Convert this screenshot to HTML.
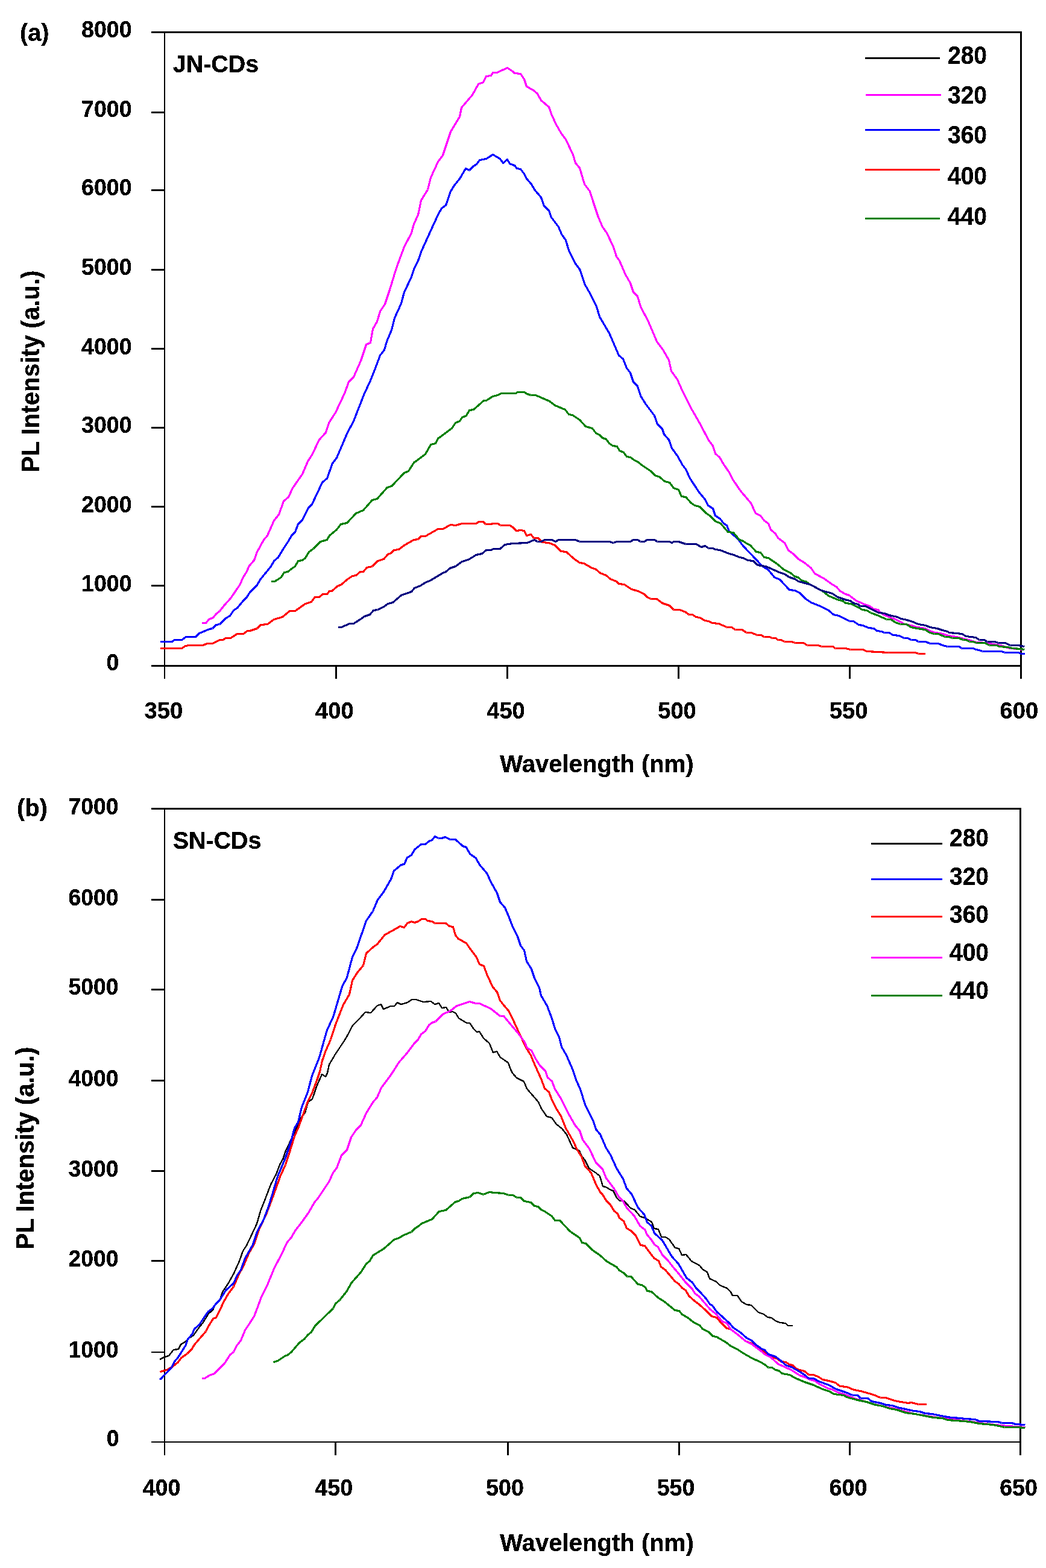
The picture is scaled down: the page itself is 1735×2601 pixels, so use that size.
<!DOCTYPE html>
<html lang="en">
<head>
<meta charset="utf-8">
<title>PL spectra of JN-CDs and SN-CDs</title>
<style>
html,body{margin:0;padding:0;background:#fff;}
body{width:1735px;height:2601px;overflow:hidden;}
svg{display:block;}
text{font-family:"Liberation Sans", sans-serif;font-weight:bold;fill:#000;}
</style>
</head>
<body>
<svg width="1735" height="2601" viewBox="0 0 1735 2601">
<defs>
<filter id="aa" x="-10%" y="-30%" width="120%" height="160%" color-interpolation-filters="sRGB"><feComponentTransfer><feFuncA type="discrete" tableValues="0 0 0 1 1 1 1 1 1 1"/></feComponentTransfer></filter>
</defs>
<rect x="0" y="0" width="1735" height="2601" fill="#ffffff"/>

<g id="plot-a">
<g shape-rendering="crispEdges">
<rect x="251" y="52" width="1444" height="3" fill="#000"/>
<rect x="251" y="1103" width="1444" height="3" fill="#000"/>
<rect x="272" y="52" width="2" height="1074" fill="#000"/>
<rect x="1692" y="52" width="3" height="1074" fill="#000"/>
<rect x="251" y="185" width="22" height="3" fill="#000"/>
<rect x="251" y="314" width="22" height="3" fill="#000"/>
<rect x="251" y="446" width="22" height="3" fill="#000"/>
<rect x="251" y="577" width="22" height="3" fill="#000"/>
<rect x="251" y="708" width="22" height="3" fill="#000"/>
<rect x="251" y="839" width="22" height="3" fill="#000"/>
<rect x="251" y="970" width="22" height="3" fill="#000"/>
<rect x="556" y="1104" width="3" height="22" fill="#000"/>
<rect x="840" y="1104" width="3" height="22" fill="#000"/>
<rect x="1124" y="1104" width="3" height="22" fill="#000"/>
<rect x="1408" y="1104" width="3" height="22" fill="#000"/>
</g>
<g>
<polyline points="334.5,1033.5 341.5,1033.5 346.5,1027.5 353.5,1024.5 358.5,1018.5 364.5,1013.5 372.5,1003.5 382.5,992.5 397.5,970.5 403.5,957.5 408.5,949.5 413.5,938.5 421.5,929.5 426.5,915.5 437.5,895.5 443.5,888.5 454.5,863.5 462.5,853.5 470.5,831.5 478.5,824.5 485.5,809.5 501.5,786.5 510.5,765.5 517.5,754.5 529.5,729.5 540.5,717.5 545.5,701.5 556.5,684.5 571.5,652.5 578.5,633.5 586.5,625.5 598.5,598.5 607.5,571.5 614.5,568.5 618.5,545.5 625.5,533.5 630.5,516.5 638.5,504.5 646.5,480.5 657.5,444.5 670.5,409.5 682.5,386.5 686.5,371.5 693.5,356.5 698.5,332.5 709.5,314.5 714.5,294.5 726.5,268.5 734.5,257.5 747.5,218.5 762.5,193.5 765.5,178.5 783.5,157.5 793.5,139.5 801.5,136.5 806.5,126.5 814.5,125.5 817.5,120.5 824.5,120.5 841.5,112.5 850.5,118.5 853.5,121.5 863.5,122.5 869.5,131.5 873.5,143.5 884.5,149.5 891.5,155.5 897.5,166.5 910.5,177.5 915.5,191.5 922.5,206.5 930.5,220.5 938.5,231.5 950.5,256.5 954.5,270.5 961.5,278.5 969.5,305.5 978.5,317.5 983.5,333.5 992.5,360.5 999.5,376.5 1006.5,386.5 1017.5,409.5 1022.5,425.5 1027.5,432.5 1037.5,455.5 1045.5,469.5 1050.5,484.5 1057.5,491.5 1062.5,508.5 1075.5,533.5 1089.5,566.5 1100.5,581.5 1109.5,597.5 1113.5,615.5 1123.5,629.5 1131.5,647.5 1146.5,677.5 1161.5,703.5 1175.5,730.5 1182.5,739.5 1186.5,752.5 1193.5,758.5 1200.5,770.5 1209.5,783.5 1215.5,795.5 1228.5,814.5 1245.5,834.5 1253.5,851.5 1261.5,855.5 1267.5,863.5 1274.5,868.5 1278.5,878.5 1286.5,885.5 1290.5,892.5 1301.5,900.5 1307.5,912.5 1316.5,919.5 1324.5,927.5 1334.5,933.5 1345.5,942.5 1351.5,951.5 1366.5,959.5 1380.5,969.5 1387.5,973.5 1393.5,980.5 1402.5,985.5 1408.5,987.5 1420.5,996.5 1431.5,1001.5 1442.5,1005.5 1449.5,1010.5 1456.5,1011.5 1460.5,1016.5 1467.5,1020.5 1477.5,1024.5 1485.5,1027.5 1493.5,1031.5 1500.5,1035.5 1511.5,1037.5 1521.5,1040.5 1534.5,1042.5 1544.5,1047.5 1551.5,1049.5 1564.5,1051.5 1572.5,1054.5 1586.5,1056.5 1602.5,1060.5 1610.5,1062.5 1618.5,1065.5 1637.5,1066.5 1646.5,1068.5 1659.5,1070.5 1671.5,1074.5 1676.5,1075.5 1687.5,1076.5 1699.5,1077.5" fill="none" stroke="#ff00ff" stroke-width="3.2" stroke-linejoin="round" stroke-linecap="butt" shape-rendering="crispEdges"/>
<polyline points="265.5,1064.5 285.5,1064.5 289.5,1061.5 301.5,1061.5 308.5,1056.5 324.5,1056.5 330.5,1050.5 347.5,1043.5 352.5,1042.5 358.5,1036.5 364.5,1035.5 374.5,1025.5 381.5,1021.5 387.5,1012.5 393.5,1008.5 403.5,996.5 409.5,990.5 414.5,982.5 426.5,970.5 431.5,961.5 449.5,939.5 454.5,930.5 461.5,924.5 470.5,909.5 478.5,897.5 483.5,888.5 489.5,882.5 494.5,869.5 501.5,862.5 511.5,842.5 517.5,836.5 534.5,800.5 542.5,793.5 551.5,768.5 558.5,759.5 575.5,719.5 586.5,698.5 604.5,652.5 613.5,633.5 621.5,613.5 630.5,589.5 637.5,580.5 641.5,566.5 649.5,547.5 654.5,527.5 665.5,503.5 670.5,484.5 682.5,459.5 686.5,446.5 693.5,432.5 699.5,415.5 714.5,382.5 726.5,356.5 732.5,345.5 739.5,340.5 747.5,317.5 753.5,307.5 762.5,296.5 772.5,279.5 778.5,282.5 785.5,275.5 790.5,272.5 795.5,265.5 806.5,263.5 817.5,256.5 824.5,260.5 829.5,263.5 834.5,270.5 841.5,264.5 845.5,271.5 850.5,273.5 853.5,274.5 857.5,279.5 863.5,280.5 869.5,288.5 873.5,296.5 881.5,305.5 886.5,314.5 897.5,327.5 902.5,341.5 910.5,349.5 914.5,360.5 926.5,376.5 931.5,388.5 938.5,398.5 943.5,415.5 954.5,437.5 961.5,446.5 970.5,472.5 978.5,486.5 989.5,508.5 994.5,525.5 1010.5,552.5 1026.5,589.5 1033.5,595.5 1039.5,610.5 1045.5,618.5 1050.5,633.5 1057.5,640.5 1062.5,656.5 1070.5,669.5 1085.5,689.5 1090.5,703.5 1098.5,711.5 1101.5,720.5 1109.5,729.5 1114.5,743.5 1124.5,757.5 1131.5,770.5 1137.5,778.5 1144.5,793.5 1159.5,816.5 1169.5,828.5 1174.5,838.5 1182.5,843.5 1186.5,855.5 1194.5,860.5 1200.5,868.5 1205.5,871.5 1209.5,881.5 1223.5,893.5 1232.5,905.5 1255.5,929.5 1263.5,938.5 1274.5,945.5 1284.5,957.5 1293.5,961.5 1309.5,978.5 1318.5,979.5 1326.5,983.5 1336.5,993.5 1345.5,999.5 1360.5,1005.5 1374.5,1012.5 1382.5,1019.5 1391.5,1021.5 1401.5,1026.5 1409.5,1030.5 1415.5,1030.5 1424.5,1036.5 1431.5,1037.5 1440.5,1041.5 1449.5,1042.5 1454.5,1046.5 1462.5,1047.5 1466.5,1049.5 1474.5,1049.5 1481.5,1053.5 1491.5,1054.5 1499.5,1058.5 1505.5,1058.5 1511.5,1061.5 1518.5,1061.5 1523.5,1064.5 1535.5,1064.5 1542.5,1067.5 1556.5,1067.5 1563.5,1070.5 1571.5,1072.5 1590.5,1072.5 1595.5,1075.5 1614.5,1075.5 1618.5,1077.5 1624.5,1078.5 1629.5,1080.5 1661.5,1080.5 1666.5,1082.5 1689.5,1082.5 1693.5,1084.5 1699.5,1084.5" fill="none" stroke="#0000ff" stroke-width="3.2" stroke-linejoin="round" stroke-linecap="butt" shape-rendering="crispEdges"/>
<polyline points="265.5,1075.5 301.5,1075.5 307.5,1071.5 313.5,1070.5 336.5,1070.5 343.5,1067.5 352.5,1067.5 364.5,1061.5 369.5,1061.5 374.5,1058.5 382.5,1058.5 393.5,1051.5 403.5,1051.5 410.5,1046.5 414.5,1046.5 426.5,1042.5 432.5,1036.5 443.5,1035.5 454.5,1027.5 468.5,1023.5 480.5,1013.5 489.5,1013.5 506.5,1001.5 516.5,998.5 522.5,990.5 529.5,990.5 535.5,985.5 542.5,985.5 546.5,980.5 550.5,980.5 559.5,972.5 566.5,969.5 575.5,961.5 584.5,955.5 590.5,954.5 597.5,948.5 602.5,948.5 608.5,941.5 617.5,939.5 626.5,930.5 636.5,927.5 643.5,919.5 648.5,917.5 653.5,912.5 661.5,911.5 670.5,904.5 686.5,895.5 693.5,894.5 698.5,889.5 705.5,889.5 726.5,877.5 734.5,877.5 747.5,870.5 755.5,871.5 766.5,868.5 789.5,868.5 794.5,865.5 801.5,865.5 805.5,869.5 814.5,869.5 817.5,868.5 825.5,868.5 830.5,871.5 845.5,871.5 850.5,874.5 856.5,880.5 863.5,879.5 869.5,880.5 873.5,888.5 880.5,886.5 885.5,892.5 892.5,892.5 899.5,899.5 910.5,900.5 920.5,904.5 930.5,914.5 939.5,915.5 951.5,926.5 961.5,933.5 968.5,934.5 980.5,941.5 988.5,944.5 995.5,950.5 1005.5,954.5 1012.5,960.5 1022.5,964.5 1026.5,968.5 1035.5,969.5 1047.5,977.5 1058.5,980.5 1068.5,985.5 1073.5,990.5 1079.5,993.5 1089.5,993.5 1098.5,1000.5 1110.5,1004.5 1117.5,1011.5 1127.5,1011.5 1137.5,1015.5 1142.5,1019.5 1148.5,1019.5 1154.5,1023.5 1160.5,1024.5 1169.5,1029.5 1175.5,1030.5 1181.5,1033.5 1192.5,1034.5 1205.5,1040.5 1213.5,1040.5 1219.5,1044.5 1230.5,1044.5 1238.5,1049.5 1246.5,1049.5 1255.5,1053.5 1262.5,1053.5 1267.5,1056.5 1276.5,1056.5 1280.5,1058.5 1286.5,1058.5 1290.5,1061.5 1295.5,1061.5 1301.5,1064.5 1313.5,1064.5 1318.5,1066.5 1332.5,1066.5 1339.5,1070.5 1357.5,1070.5 1362.5,1072.5 1381.5,1072.5 1385.5,1075.5 1402.5,1075.5 1410.5,1077.5 1431.5,1077.5 1437.5,1080.5 1474.5,1082.5 1518.5,1082.5 1523.5,1084.5 1534.5,1084.5" fill="none" stroke="#ff0000" stroke-width="3.2" stroke-linejoin="round" stroke-linecap="butt" shape-rendering="crispEdges"/>
<polyline points="449.5,964.5 455.5,964.5 460.5,961.5 466.5,957.5 471.5,949.5 477.5,948.5 483.5,943.5 489.5,939.5 494.5,930.5 501.5,929.5 506.5,925.5 512.5,915.5 519.5,910.5 531.5,898.5 542.5,895.5 546.5,888.5 558.5,878.5 565.5,869.5 575.5,867.5 590.5,851.5 602.5,846.5 617.5,829.5 625.5,827.5 642.5,808.5 649.5,806.5 670.5,784.5 677.5,781.5 686.5,767.5 705.5,753.5 714.5,737.5 722.5,735.5 726.5,727.5 749.5,710.5 755.5,701.5 762.5,698.5 766.5,692.5 773.5,689.5 778.5,680.5 785.5,679.5 802.5,664.5 806.5,664.5 817.5,657.5 825.5,655.5 831.5,652.5 850.5,652.5 855.5,652.5 858.5,650.5 869.5,650.5 874.5,653.5 880.5,655.5 888.5,655.5 897.5,659.5 911.5,665.5 920.5,672.5 937.5,679.5 943.5,687.5 949.5,688.5 961.5,696.5 971.5,707.5 982.5,710.5 988.5,718.5 994.5,721.5 999.5,726.5 1005.5,728.5 1010.5,735.5 1016.5,739.5 1023.5,740.5 1027.5,747.5 1034.5,750.5 1039.5,757.5 1045.5,758.5 1052.5,763.5 1058.5,766.5 1064.5,771.5 1079.5,781.5 1086.5,788.5 1094.5,791.5 1102.5,798.5 1110.5,800.5 1117.5,809.5 1125.5,812.5 1130.5,823.5 1137.5,824.5 1146.5,834.5 1152.5,838.5 1160.5,840.5 1171.5,851.5 1177.5,855.5 1186.5,864.5 1195.5,868.5 1207.5,882.5 1216.5,883.5 1226.5,895.5 1232.5,897.5 1238.5,901.5 1244.5,904.5 1254.5,915.5 1261.5,916.5 1267.5,924.5 1274.5,925.5 1290.5,936.5 1299.5,944.5 1311.5,950.5 1318.5,956.5 1323.5,957.5 1330.5,963.5 1336.5,964.5 1343.5,969.5 1364.5,980.5 1374.5,988.5 1391.5,995.5 1397.5,996.5 1402.5,1000.5 1411.5,1001.5 1423.5,1007.5 1430.5,1011.5 1437.5,1012.5 1444.5,1016.5 1457.5,1021.5 1470.5,1027.5 1477.5,1027.5 1485.5,1032.5 1493.5,1035.5 1503.5,1035.5 1511.5,1040.5 1521.5,1042.5 1534.5,1044.5 1542.5,1049.5 1549.5,1051.5 1556.5,1051.5 1567.5,1056.5 1574.5,1056.5 1579.5,1058.5 1590.5,1058.5 1597.5,1061.5 1602.5,1061.5 1608.5,1064.5 1614.5,1064.5 1619.5,1066.5 1633.5,1066.5 1641.5,1070.5 1653.5,1070.5 1657.5,1072.5 1671.5,1073.5 1679.5,1075.5 1692.5,1076.5 1699.5,1077.5" fill="none" stroke="#008000" stroke-width="3.2" stroke-linejoin="round" stroke-linecap="butt" shape-rendering="crispEdges"/>
<polyline points="560.5,1040.5 566.5,1040.5 579.5,1034.5 586.5,1034.5 597.5,1027.5 604.5,1022.5 613.5,1019.5 619.5,1012.5 626.5,1011.5 636.5,1006.5 643.5,1001.5 651.5,999.5 665.5,987.5 682.5,981.5 687.5,975.5 697.5,971.5 705.5,966.5 714.5,962.5 734.5,950.5 739.5,948.5 746.5,942.5 755.5,939.5 766.5,931.5 776.5,928.5 783.5,924.5 789.5,920.5 799.5,918.5 806.5,912.5 814.5,912.5 818.5,910.5 829.5,910.5 837.5,903.5 850.5,901.5 874.5,900.5 886.5,895.5 891.5,898.5 897.5,898.5 903.5,895.5 915.5,895.5 921.5,898.5 926.5,895.5 954.5,895.5 961.5,898.5 1010.5,898.5 1017.5,900.5 1022.5,898.5 1045.5,898.5 1050.5,895.5 1057.5,895.5 1062.5,898.5 1068.5,898.5 1073.5,895.5 1085.5,895.5 1090.5,898.5 1110.5,898.5 1114.5,900.5 1117.5,898.5 1125.5,898.5 1137.5,902.5 1154.5,902.5 1163.5,907.5 1169.5,905.5 1175.5,909.5 1182.5,909.5 1186.5,911.5 1194.5,912.5 1209.5,918.5 1217.5,920.5 1226.5,924.5 1232.5,925.5 1240.5,929.5 1249.5,930.5 1255.5,936.5 1261.5,938.5 1270.5,939.5 1290.5,948.5 1301.5,952.5 1309.5,957.5 1318.5,960.5 1324.5,964.5 1343.5,969.5 1362.5,979.5 1380.5,984.5 1389.5,990.5 1404.5,995.5 1410.5,996.5 1415.5,1000.5 1423.5,1002.5 1426.5,1005.5 1435.5,1005.5 1449.5,1012.5 1457.5,1016.5 1467.5,1017.5 1474.5,1020.5 1488.5,1023.5 1494.5,1026.5 1500.5,1027.5 1511.5,1030.5 1523.5,1035.5 1535.5,1037.5 1542.5,1040.5 1554.5,1042.5 1563.5,1045.5 1571.5,1047.5 1574.5,1049.5 1586.5,1050.5 1595.5,1051.5 1602.5,1055.5 1618.5,1057.5 1624.5,1061.5 1632.5,1061.5 1637.5,1064.5 1650.5,1064.5 1655.5,1066.5 1667.5,1066.5 1675.5,1070.5 1688.5,1070.5 1699.5,1072.5" fill="none" stroke="#000080" stroke-width="3.2" stroke-linejoin="round" stroke-linecap="butt" shape-rendering="crispEdges"/>
</g>
<g shape-rendering="crispEdges">
<rect x="1434.5" y="95" width="124.5" height="3" fill="#000000"/>
<rect x="1436.3" y="156" width="124.5" height="3" fill="#ff00ff"/>
<rect x="1434.5" y="214" width="124.5" height="3" fill="#0000ff"/>
<rect x="1434.5" y="280" width="124.5" height="3" fill="#ff0000"/>
<rect x="1434.5" y="361" width="124.5" height="3" fill="#008000"/>
</g>
<text transform="translate(1572,106.3) scale(1,1.073)" font-size="39" filter="url(#aa)">280</text>
<text transform="translate(1572,172.3) scale(1,1.073)" font-size="39" filter="url(#aa)">320</text>
<text transform="translate(1572,238.3) scale(1,1.073)" font-size="39" filter="url(#aa)">360</text>
<text transform="translate(1572,306.2) scale(1,1.073)" font-size="39" filter="url(#aa)">400</text>
<text transform="translate(1572,373.1) scale(1,1.073)" font-size="39" filter="url(#aa)">440</text>
<text transform="translate(135,62) scale(1,1.03)" font-size="37.6" filter="url(#aa)">8000</text>
<text transform="translate(135,194.3) scale(1,1.03)" font-size="37.6" filter="url(#aa)">7000</text>
<text transform="translate(135,323.5) scale(1,1.03)" font-size="37.6" filter="url(#aa)">6000</text>
<text transform="translate(135,455.8) scale(1,1.03)" font-size="37.6" filter="url(#aa)">5000</text>
<text transform="translate(135,587.8) scale(1,1.03)" font-size="37.6" filter="url(#aa)">4000</text>
<text transform="translate(135,718.2) scale(1,1.03)" font-size="37.6" filter="url(#aa)">3000</text>
<text transform="translate(135,850.3) scale(1,1.03)" font-size="37.6" filter="url(#aa)">2000</text>
<text transform="translate(135,981) scale(1,1.03)" font-size="37.6" filter="url(#aa)">1000</text>
<text transform="translate(176.5,1111.8) scale(1,1.03)" font-size="37.6" filter="url(#aa)">0</text>
<text transform="translate(271.3,1192.2) scale(1,1.035)" font-size="38.2" text-anchor="middle" filter="url(#aa)">350</text>
<text transform="translate(554.9,1192.2) scale(1,1.035)" font-size="38.2" text-anchor="middle" filter="url(#aa)">400</text>
<text transform="translate(839,1192.2) scale(1,1.035)" font-size="38.2" text-anchor="middle" filter="url(#aa)">450</text>
<text transform="translate(1123,1192.2) scale(1,1.035)" font-size="38.2" text-anchor="middle" filter="url(#aa)">500</text>
<text transform="translate(1407.7,1192.2) scale(1,1.035)" font-size="38.2" text-anchor="middle" filter="url(#aa)">550</text>
<text transform="translate(1690.4,1192.2) scale(1,1.035)" font-size="38.2" text-anchor="middle" filter="url(#aa)">600</text>
<text transform="translate(33,67.9) scale(1,1.03)" font-size="39.6" filter="url(#aa)">(a)</text>
<text transform="translate(286.8,120) scale(1,1.048)" font-size="39.4" filter="url(#aa)">JN-CDs</text>
<text transform="translate(990,1281) scale(1,1.03)" font-size="40.1" text-anchor="middle" filter="url(#aa)">Wavelength (nm)</text>
<text transform="translate(65,616) rotate(-90) scale(1,1.04)" font-size="40.3" text-anchor="middle" filter="url(#aa)">PL Intensity (a.u.)</text>
</g>
<g id="plot-b">
<g shape-rendering="crispEdges">
<rect x="251" y="1340" width="1443" height="3" fill="#000"/>
<rect x="251" y="2391" width="1443" height="2" fill="#000"/>
<rect x="272" y="1340" width="2" height="1074" fill="#000"/>
<rect x="1691" y="1340" width="3" height="1074" fill="#000"/>
<rect x="251" y="1491" width="22" height="3" fill="#000"/>
<rect x="251" y="1640" width="22" height="3" fill="#000"/>
<rect x="251" y="1791" width="22" height="3" fill="#000"/>
<rect x="251" y="1941" width="22" height="3" fill="#000"/>
<rect x="251" y="2090" width="22" height="3" fill="#000"/>
<rect x="251" y="2242" width="22" height="2" fill="#000"/>
<rect x="555" y="2392" width="3" height="22" fill="#000"/>
<rect x="841" y="2392" width="3" height="22" fill="#000"/>
<rect x="1125" y="2392" width="3" height="22" fill="#000"/>
<rect x="1408" y="2392" width="3" height="22" fill="#000"/>
</g>
<g>
<polyline points="265.0,2255.0 273.0,2251.0 280.0,2249.0 288.0,2239.0 296.0,2238.0 300.0,2230.0 307.0,2226.0 313.0,2220.0 321.0,2215.0 328.0,2205.0 336.0,2195.0 346.0,2179.0 353.0,2173.0 357.0,2164.0 365.0,2156.0 369.0,2143.0 378.0,2130.0 388.0,2112.0 397.0,2092.0 403.0,2075.0 409.0,2066.0 418.0,2047.0 426.0,2030.0 432.0,2009.0 441.0,1986.0 449.0,1965.0 458.0,1948.0 464.0,1932.0 470.0,1921.0 473.0,1911.0 482.0,1892.0 489.0,1877.0 498.0,1856.0 506.0,1846.0 511.0,1828.0 518.0,1823.0 526.0,1800.0 534.0,1782.0 540.0,1786.0 543.0,1780.0 546.0,1766.0 556.0,1749.0 570.0,1728.0 575.0,1720.0 585.0,1701.0 596.0,1690.0 606.0,1679.0 615.0,1680.0 626.0,1668.0 632.0,1666.0 636.0,1674.0 648.0,1669.0 654.0,1669.0 659.0,1663.0 665.0,1666.0 676.0,1663.0 683.0,1658.0 690.0,1658.0 702.0,1662.0 715.0,1661.0 721.0,1666.0 728.0,1664.0 733.0,1672.0 740.0,1671.0 745.0,1679.0 751.0,1678.0 756.0,1681.0 761.0,1689.0 774.0,1697.0 779.0,1697.0 786.0,1707.0 791.0,1712.0 795.0,1711.0 802.0,1722.0 812.0,1731.0 818.0,1746.0 824.0,1744.0 830.0,1754.0 836.0,1758.0 843.0,1763.0 847.0,1774.0 850.0,1780.0 857.0,1788.0 869.0,1794.0 874.0,1806.0 893.0,1828.0 898.0,1839.0 907.0,1852.0 915.0,1854.0 923.0,1865.0 932.0,1872.0 940.0,1882.0 950.0,1904.0 961.0,1909.0 965.0,1918.0 970.0,1924.0 977.0,1938.0 989.0,1946.0 995.0,1951.0 1000.0,1968.0 1005.0,1969.0 1013.0,1974.0 1017.0,1975.0 1023.0,1987.0 1028.0,1992.0 1035.0,1992.0 1046.0,2004.0 1053.0,2007.0 1062.0,2018.0 1069.0,2020.0 1081.0,2027.0 1085.0,2038.0 1092.0,2039.0 1097.0,2052.0 1104.0,2052.0 1110.0,2056.0 1120.0,2070.0 1126.0,2071.0 1131.0,2082.0 1138.0,2081.0 1147.0,2092.0 1160.0,2099.0 1166.0,2106.0 1173.0,2110.0 1177.0,2121.0 1188.0,2126.0 1194.0,2132.0 1206.0,2137.0 1212.0,2143.0 1215.0,2149.0 1223.0,2149.0 1230.0,2159.0 1238.0,2164.0 1246.0,2165.0 1258.0,2177.0 1267.0,2180.0 1273.0,2185.0 1280.0,2186.0 1286.0,2191.0 1294.0,2194.0 1303.0,2195.0 1307.0,2199.0 1315.0,2199.0" fill="none" stroke="#000000" stroke-width="2.4" stroke-linejoin="round" stroke-linecap="butt" shape-rendering="crispEdges"/>
<polyline points="265.5,2275.5 276.5,2272.5 285.5,2267.5 295.5,2259.5 300.5,2252.5 310.5,2245.5 318.5,2237.5 322.5,2230.5 341.5,2208.5 345.5,2200.5 353.5,2187.5 358.5,2185.5 364.5,2173.5 371.5,2158.5 378.5,2146.5 387.5,2134.5 395.5,2115.5 403.5,2100.5 412.5,2079.5 421.5,2063.5 429.5,2039.5 441.5,2014.5 449.5,1993.5 456.5,1974.5 465.5,1949.5 473.5,1932.5 481.5,1907.5 488.5,1884.5 494.5,1871.5 502.5,1849.5 510.5,1827.5 517.5,1813.5 525.5,1792.5 530.5,1777.5 534.5,1759.5 540.5,1742.5 548.5,1724.5 556.5,1699.5 569.5,1666.5 579.5,1649.5 584.5,1626.5 592.5,1613.5 602.5,1601.5 607.5,1581.5 619.5,1570.5 625.5,1566.5 638.5,1550.5 651.5,1543.5 663.5,1536.5 670.5,1538.5 675.5,1531.5 682.5,1528.5 687.5,1530.5 693.5,1528.5 699.5,1524.5 705.5,1524.5 709.5,1527.5 716.5,1528.5 721.5,1531.5 739.5,1531.5 745.5,1536.5 751.5,1537.5 755.5,1551.5 760.5,1557.5 773.5,1564.5 779.5,1573.5 789.5,1586.5 795.5,1599.5 802.5,1602.5 808.5,1618.5 817.5,1637.5 824.5,1645.5 829.5,1659.5 835.5,1667.5 843.5,1676.5 850.5,1690.5 861.5,1714.5 873.5,1739.5 880.5,1750.5 884.5,1760.5 888.5,1769.5 897.5,1789.5 903.5,1805.5 910.5,1811.5 915.5,1824.5 922.5,1838.5 930.5,1851.5 938.5,1871.5 950.5,1892.5 957.5,1907.5 964.5,1918.5 970.5,1934.5 980.5,1945.5 988.5,1964.5 995.5,1977.5 999.5,1981.5 1005.5,1991.5 1012.5,1998.5 1018.5,2008.5 1024.5,2013.5 1027.5,2020.5 1034.5,2025.5 1039.5,2037.5 1046.5,2041.5 1054.5,2049.5 1062.5,2065.5 1069.5,2066.5 1080.5,2081.5 1085.5,2087.5 1092.5,2091.5 1096.5,2101.5 1103.5,2106.5 1114.5,2119.5 1119.5,2125.5 1125.5,2129.5 1131.5,2136.5 1137.5,2140.5 1142.5,2149.5 1152.5,2158.5 1159.5,2163.5 1171.5,2174.5 1180.5,2183.5 1188.5,2185.5 1194.5,2192.5 1205.5,2203.5 1211.5,2204.5 1224.5,2214.5 1236.5,2224.5 1246.5,2228.5 1257.5,2237.5 1267.5,2242.5 1276.5,2249.5 1288.5,2253.5 1295.5,2258.5 1303.5,2259.5 1309.5,2263.5 1314.5,2264.5 1322.5,2271.5 1334.5,2274.5 1341.5,2280.5 1349.5,2280.5 1358.5,2284.5 1364.5,2288.5 1374.5,2290.5 1385.5,2293.5 1393.5,2299.5 1404.5,2300.5 1416.5,2305.5 1427.5,2307.5 1441.5,2311.5 1448.5,2313.5 1460.5,2318.5 1469.5,2318.5 1483.5,2323.5 1494.5,2325.5 1506.5,2327.5 1511.5,2326.5 1523.5,2329.5 1536.5,2329.5" fill="none" stroke="#ff0000" stroke-width="3.2" stroke-linejoin="round" stroke-linecap="butt" shape-rendering="crispEdges"/>
<polyline points="334.5,2286.5 339.5,2286.5 347.5,2281.5 355.5,2278.5 364.5,2269.5 372.5,2261.5 381.5,2247.5 387.5,2242.5 392.5,2232.5 399.5,2223.5 406.5,2206.5 414.5,2194.5 421.5,2183.5 426.5,2170.5 433.5,2151.5 443.5,2131.5 454.5,2104.5 466.5,2081.5 476.5,2060.5 483.5,2052.5 489.5,2041.5 500.5,2027.5 512.5,2010.5 521.5,1994.5 527.5,1987.5 535.5,1975.5 545.5,1960.5 552.5,1945.5 558.5,1937.5 566.5,1916.5 575.5,1907.5 582.5,1886.5 590.5,1874.5 598.5,1866.5 607.5,1846.5 618.5,1828.5 625.5,1820.5 632.5,1804.5 649.5,1781.5 661.5,1762.5 675.5,1746.5 686.5,1731.5 693.5,1724.5 698.5,1715.5 705.5,1710.5 711.5,1700.5 716.5,1696.5 722.5,1694.5 734.5,1682.5 747.5,1676.5 757.5,1668.5 764.5,1666.5 778.5,1661.5 789.5,1664.5 795.5,1664.5 814.5,1673.5 829.5,1685.5 835.5,1685.5 850.5,1703.5 857.5,1711.5 869.5,1727.5 874.5,1738.5 881.5,1742.5 888.5,1756.5 895.5,1767.5 904.5,1776.5 908.5,1787.5 915.5,1793.5 920.5,1806.5 930.5,1822.5 943.5,1848.5 954.5,1867.5 961.5,1875.5 966.5,1890.5 977.5,1905.5 988.5,1928.5 999.5,1939.5 1005.5,1954.5 1018.5,1971.5 1026.5,1985.5 1033.5,1992.5 1039.5,2003.5 1052.5,2017.5 1061.5,2033.5 1069.5,2039.5 1073.5,2048.5 1080.5,2056.5 1085.5,2064.5 1091.5,2068.5 1098.5,2081.5 1108.5,2091.5 1114.5,2099.5 1125.5,2112.5 1137.5,2127.5 1148.5,2138.5 1152.5,2145.5 1159.5,2150.5 1171.5,2164.5 1177.5,2171.5 1188.5,2180.5 1198.5,2192.5 1205.5,2194.5 1211.5,2204.5 1224.5,2214.5 1236.5,2224.5 1246.5,2229.5 1261.5,2240.5 1268.5,2246.5 1278.5,2251.5 1290.5,2262.5 1301.5,2267.5 1312.5,2272.5 1326.5,2281.5 1335.5,2284.5 1343.5,2288.5 1351.5,2290.5 1358.5,2295.5 1374.5,2303.5 1379.5,2304.5 1391.5,2310.5 1402.5,2313.5 1416.5,2319.5 1437.5,2325.5 1450.5,2329.5 1467.5,2333.5 1483.5,2336.5 1498.5,2340.5 1517.5,2345.5 1536.5,2348.5 1555.5,2351.5 1575.5,2353.5 1594.5,2356.5 1613.5,2358.5 1632.5,2361.5 1651.5,2363.5 1670.5,2365.5 1700.5,2367.5" fill="none" stroke="#ff00ff" stroke-width="3.2" stroke-linejoin="round" stroke-linecap="butt" shape-rendering="crispEdges"/>
<polyline points="453.5,2259.5 460.5,2257.5 472.5,2249.5 477.5,2247.5 483.5,2242.5 489.5,2235.5 496.5,2227.5 504.5,2221.5 510.5,2214.5 516.5,2209.5 522.5,2199.5 552.5,2170.5 556.5,2162.5 563.5,2156.5 575.5,2141.5 582.5,2128.5 598.5,2110.5 607.5,2096.5 613.5,2091.5 618.5,2082.5 636.5,2071.5 653.5,2056.5 661.5,2053.5 670.5,2048.5 682.5,2043.5 688.5,2037.5 693.5,2034.5 699.5,2029.5 716.5,2022.5 728.5,2009.5 739.5,2007.5 747.5,2000.5 755.5,1993.5 760.5,1992.5 766.5,1988.5 779.5,1985.5 785.5,1979.5 793.5,1978.5 801.5,1981.5 811.5,1977.5 820.5,1978.5 835.5,1979.5 843.5,1982.5 850.5,1982.5 857.5,1986.5 863.5,1986.5 869.5,1992.5 880.5,1994.5 886.5,2000.5 892.5,2001.5 897.5,2006.5 903.5,2009.5 915.5,2017.5 920.5,2024.5 928.5,2024.5 945.5,2042.5 961.5,2053.5 965.5,2061.5 971.5,2062.5 982.5,2073.5 995.5,2082.5 1006.5,2092.5 1022.5,2101.5 1027.5,2107.5 1034.5,2111.5 1040.5,2117.5 1046.5,2117.5 1058.5,2130.5 1064.5,2131.5 1070.5,2135.5 1073.5,2141.5 1080.5,2142.5 1091.5,2152.5 1102.5,2159.5 1119.5,2173.5 1126.5,2174.5 1131.5,2180.5 1140.5,2185.5 1150.5,2193.5 1160.5,2198.5 1165.5,2204.5 1175.5,2209.5 1182.5,2216.5 1188.5,2217.5 1205.5,2227.5 1211.5,2232.5 1223.5,2238.5 1232.5,2244.5 1246.5,2252.5 1261.5,2259.5 1268.5,2263.5 1274.5,2268.5 1280.5,2268.5 1286.5,2272.5 1291.5,2273.5 1297.5,2278.5 1309.5,2280.5 1320.5,2286.5 1334.5,2292.5 1349.5,2297.5 1364.5,2304.5 1374.5,2307.5 1383.5,2312.5 1399.5,2314.5 1404.5,2317.5 1422.5,2322.5 1437.5,2325.5 1452.5,2330.5 1464.5,2332.5 1475.5,2336.5 1487.5,2338.5 1502.5,2343.5 1517.5,2345.5 1533.5,2348.5 1548.5,2351.5 1563.5,2352.5 1571.5,2355.5 1586.5,2356.5 1609.5,2358.5 1624.5,2361.5 1647.5,2363.5 1666.5,2367.5 1686.5,2367.5 1700.5,2368.5" fill="none" stroke="#008000" stroke-width="3.2" stroke-linejoin="round" stroke-linecap="butt" shape-rendering="crispEdges"/>
<polyline points="265.5,2288.5 284.5,2268.5 289.5,2258.5 295.5,2251.5 307.5,2232.5 311.5,2221.5 318.5,2213.5 322.5,2204.5 330.5,2197.5 336.5,2188.5 345.5,2175.5 352.5,2170.5 358.5,2162.5 364.5,2156.5 374.5,2140.5 387.5,2128.5 393.5,2115.5 399.5,2106.5 406.5,2087.5 419.5,2064.5 426.5,2043.5 437.5,2022.5 445.5,2001.5 452.5,1978.5 460.5,1951.5 473.5,1920.5 483.5,1890.5 488.5,1871.5 494.5,1861.5 500.5,1836.5 510.5,1811.5 517.5,1784.5 529.5,1754.5 542.5,1708.5 552.5,1687.5 567.5,1636.5 575.5,1621.5 584.5,1587.5 591.5,1573.5 607.5,1527.5 618.5,1511.5 626.5,1492.5 636.5,1479.5 648.5,1458.5 653.5,1444.5 665.5,1434.5 670.5,1433.5 675.5,1422.5 682.5,1418.5 687.5,1409.5 698.5,1400.5 705.5,1400.5 711.5,1395.5 716.5,1393.5 721.5,1387.5 727.5,1390.5 732.5,1390.5 738.5,1388.5 746.5,1392.5 755.5,1392.5 767.5,1403.5 773.5,1405.5 779.5,1416.5 789.5,1423.5 795.5,1434.5 807.5,1448.5 814.5,1463.5 824.5,1481.5 829.5,1496.5 837.5,1505.5 843.5,1519.5 850.5,1537.5 858.5,1553.5 863.5,1568.5 869.5,1576.5 873.5,1594.5 881.5,1607.5 886.5,1622.5 894.5,1638.5 897.5,1651.5 907.5,1668.5 915.5,1689.5 920.5,1706.5 927.5,1720.5 931.5,1736.5 939.5,1750.5 950.5,1775.5 955.5,1791.5 962.5,1806.5 970.5,1832.5 978.5,1848.5 984.5,1860.5 988.5,1873.5 995.5,1881.5 1005.5,1904.5 1012.5,1915.5 1022.5,1937.5 1033.5,1955.5 1039.5,1971.5 1047.5,1980.5 1058.5,2003.5 1068.5,2014.5 1073.5,2027.5 1080.5,2033.5 1085.5,2045.5 1098.5,2057.5 1114.5,2084.5 1125.5,2096.5 1138.5,2119.5 1148.5,2127.5 1154.5,2136.5 1161.5,2143.5 1171.5,2154.5 1177.5,2163.5 1181.5,2165.5 1188.5,2175.5 1209.5,2194.5 1216.5,2202.5 1228.5,2210.5 1238.5,2219.5 1246.5,2223.5 1253.5,2230.5 1263.5,2237.5 1268.5,2239.5 1274.5,2246.5 1286.5,2250.5 1295.5,2257.5 1303.5,2264.5 1314.5,2268.5 1326.5,2275.5 1334.5,2280.5 1341.5,2286.5 1349.5,2286.5 1358.5,2291.5 1374.5,2297.5 1387.5,2304.5 1402.5,2309.5 1414.5,2314.5 1422.5,2314.5 1427.5,2319.5 1439.5,2319.5 1445.5,2324.5 1460.5,2327.5 1469.5,2330.5 1479.5,2331.5 1492.5,2335.5 1502.5,2337.5 1515.5,2340.5 1525.5,2341.5 1534.5,2344.5 1546.5,2345.5 1555.5,2347.5 1571.5,2350.5 1578.5,2351.5 1594.5,2352.5 1599.5,2353.5 1617.5,2354.5 1624.5,2357.5 1655.5,2358.5 1661.5,2360.5 1678.5,2360.5 1684.5,2362.5 1700.5,2363.5" fill="none" stroke="#0000ff" stroke-width="3.2" stroke-linejoin="round" stroke-linecap="butt" shape-rendering="crispEdges"/>
</g>
<g shape-rendering="crispEdges">
<rect x="1445" y="1398" width="118" height="3" fill="#000000"/>
<rect x="1445" y="1457" width="118" height="3" fill="#0000ff"/>
<rect x="1445" y="1519" width="118" height="3" fill="#ff0000"/>
<rect x="1445" y="1587" width="118" height="3" fill="#ff00ff"/>
<rect x="1445" y="1650" width="118" height="3" fill="#008000"/>
</g>
<text transform="translate(1575,1404.1) scale(1,1.073)" font-size="39" filter="url(#aa)">280</text>
<text transform="translate(1575,1467.9) scale(1,1.073)" font-size="39" filter="url(#aa)">320</text>
<text transform="translate(1575,1530.9) scale(1,1.073)" font-size="39" filter="url(#aa)">360</text>
<text transform="translate(1575,1593.9) scale(1,1.073)" font-size="39" filter="url(#aa)">400</text>
<text transform="translate(1575,1657.1) scale(1,1.073)" font-size="39" filter="url(#aa)">440</text>
<text transform="translate(113.6,1350.6) scale(1,1.03)" font-size="37.3" filter="url(#aa)">7000</text>
<text transform="translate(113.6,1502.4) scale(1,1.03)" font-size="37.3" filter="url(#aa)">6000</text>
<text transform="translate(113.6,1649.8) scale(1,1.03)" font-size="37.3" filter="url(#aa)">5000</text>
<text transform="translate(113.6,1801.6) scale(1,1.03)" font-size="37.3" filter="url(#aa)">4000</text>
<text transform="translate(113.6,1951.8) scale(1,1.03)" font-size="37.3" filter="url(#aa)">3000</text>
<text transform="translate(113.6,2100.8) scale(1,1.03)" font-size="37.3" filter="url(#aa)">2000</text>
<text transform="translate(113.6,2251.8) scale(1,1.03)" font-size="37.3" filter="url(#aa)">1000</text>
<text transform="translate(176.8,2399.1) scale(1,1.03)" font-size="37.3" filter="url(#aa)">0</text>
<text transform="translate(268.1,2481.2) scale(1,1.035)" font-size="37.7" text-anchor="middle" filter="url(#aa)">400</text>
<text transform="translate(553.8,2481.2) scale(1,1.035)" font-size="37.7" text-anchor="middle" filter="url(#aa)">450</text>
<text transform="translate(837.4,2481.2) scale(1,1.035)" font-size="37.7" text-anchor="middle" filter="url(#aa)">500</text>
<text transform="translate(1121.1,2481.2) scale(1,1.035)" font-size="37.7" text-anchor="middle" filter="url(#aa)">550</text>
<text transform="translate(1406.9,2481.2) scale(1,1.035)" font-size="37.7" text-anchor="middle" filter="url(#aa)">600</text>
<text transform="translate(1689.6,2481.2) scale(1,1.035)" font-size="37.7" text-anchor="middle" filter="url(#aa)">650</text>
<text transform="translate(28,1353.7) scale(1,1.03)" font-size="39.8" filter="url(#aa)">(b)</text>
<text transform="translate(286.8,1407.7) scale(1,1.048)" font-size="39.4" filter="url(#aa)">SN-CDs</text>
<text transform="translate(990,2573.2) scale(1,1.035)" font-size="40.1" text-anchor="middle" filter="url(#aa)">Wavelength (nm)</text>
<text transform="translate(55.8,1904.6) rotate(-90) scale(1,1.04)" font-size="40.4" text-anchor="middle" filter="url(#aa)">PL Intensity (a.u.)</text>
</g>
</svg>
</body>
</html>
